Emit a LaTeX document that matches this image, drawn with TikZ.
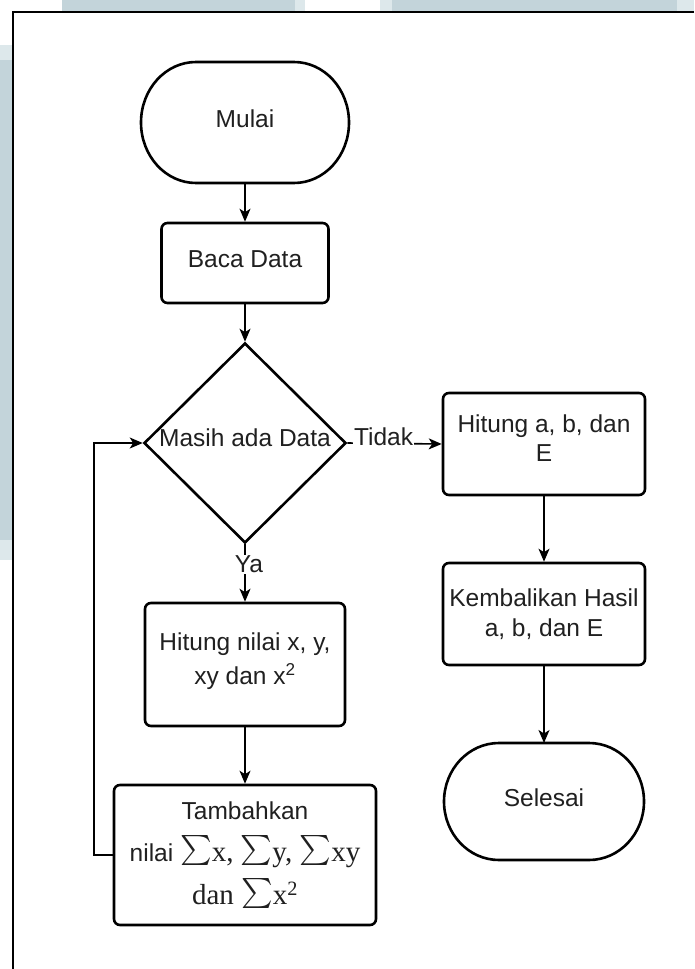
\documentclass[tikz,border=0pt]{standalone}
\usepackage{fontspec}
\usepackage{exscale}
\setmainfont{Liberation Sans}
\newfontfamily\sigmafont{Liberation Serif}
\usetikzlibrary{shapes.geometric,arrows.meta}
\definecolor{panel}{HTML}{C3D4DA}
\definecolor{panellight}{HTML}{DDE8EB}
\definecolor{ink}{HTML}{202020}
% serif text used for the sums
\newcommand\sumtext{\sigmafont\fontsize{29}{34}\selectfont}
\newcommand\sumsign{\raisebox{3.5pt}{\resizebox*{!}{30pt}{$\sum$}}}
% outline of a start/end terminal around a named node: #1 node, #2 half height
\newcommand\terminalline[2]{%
  \draw[outline] ([xshift=55pt]#1.north west) -- ([xshift=-55pt]#1.north east)
    arc[start angle=90,end angle=-90,x radius=55pt,y radius=#2]
    -- ([xshift=55pt]#1.south west)
    arc[start angle=270,end angle=90,x radius=55pt,y radius=#2] -- cycle;}
\begin{document}
\begin{tikzpicture}[x=1pt,y=1pt,
  font=\fontsize{24.5}{29.5}\selectfont,
  every node/.style={text=ink},
  outline/.style={draw=black,line width=2.6pt},
  procbox/.style={outline,rectangle,rounded corners=6pt,inner sep=0pt,align=center},
  termnode/.style={rectangle,inner sep=0pt,outer sep=0pt,align=center,text depth=8pt},
  decision/.style={outline,diamond,inner sep=0pt,minimum width=202pt,minimum height=200pt},
  flow/.style={draw=black,line width=1.6pt,-{Stealth[length=13pt,width=11pt,inset=3.5pt]}},
  tag/.style={fill=white,inner sep=1pt}]
\useasboundingbox (0,0) rectangle (694,-969);
% background panels behind the page
\fill[white] (0,0) rectangle (694,-969);
\fill[panellight] (0,-45) rectangle (12,-60);
\fill[panel] (0,-60) rectangle (12,-540);
\fill[panellight] (0,-540) rectangle (12,-560);
\fill[panel] (62,0) rectangle (295,-11);
\fill[panellight] (295,0) rectangle (305,-11);
\fill[panellight] (380,0) rectangle (392,-11);
\fill[panel] (392,0) rectangle (677,-11);
\fill[panellight] (677,0) rectangle (694,-11);
% page edge
\draw[line width=2pt] (694,-12) -- (13,-12) -- (13,-969);

% flowchart nodes
\node[termnode,minimum width=208pt,minimum height=121pt] (mulai) at (245,-122.5) {Mulai};
\terminalline{mulai}{60.5pt}
\node[procbox,minimum width=167pt,minimum height=80pt,text depth=8pt] (baca) at (245,-263) {Baca Data};
\node[decision,label={[text depth=10pt]center:{Masih ada Data}}] (dec) at (245,-443) {};
\node[procbox,minimum width=200pt,minimum height=123pt,text depth=12pt] (hnilai) at (245,-664.5)
  {Hitung nilai x, y,\\[4pt] xy dan x\textsuperscript{2}};
\node[procbox,minimum width=262pt,minimum height=140pt] (tamb) at (245,-855)
  {Tambahkan\\[12pt] nilai {\sumtext \sumsign x, \sumsign y, \sumsign xy}\\[10pt] {\sumtext dan \sumsign x\textsuperscript{2}}};
\node[procbox,minimum width=202pt,minimum height=102pt,text depth=12pt] (hab) at (544,-444)
  {Hitung a, b, dan\\ E};
\node[procbox,minimum width=202pt,minimum height=102pt] (kemb) at (544,-614)
  {Kembalikan Hasil\\ a, b, dan E};
\node[termnode,minimum width=200pt,minimum height=117pt] (selesai) at (544,-801.5) {Selesai};
\terminalline{selesai}{58.5pt}

% connectors
\draw[flow] (mulai.south) -- (baca.north);
\draw[flow] (baca.south) -- (dec.north);
\draw[flow] (dec.east) -- node[tag,pos=0,anchor=west,xshift=5pt,yshift=6pt] {Tidak} (hab.west);
\draw[flow] (dec.south) -- node[tag,pos=0.35,xshift=4pt] {Ya} (hnilai.north);
\draw[flow] (hnilai.south) -- (tamb.north);
\draw[flow] (tamb.west) -- ++(-19,0) |- (dec.west);
\draw[flow] (hab.south) -- (kemb.north);
\draw[flow] (kemb.south) -- (selesai.north);
\end{tikzpicture}
\end{document}
